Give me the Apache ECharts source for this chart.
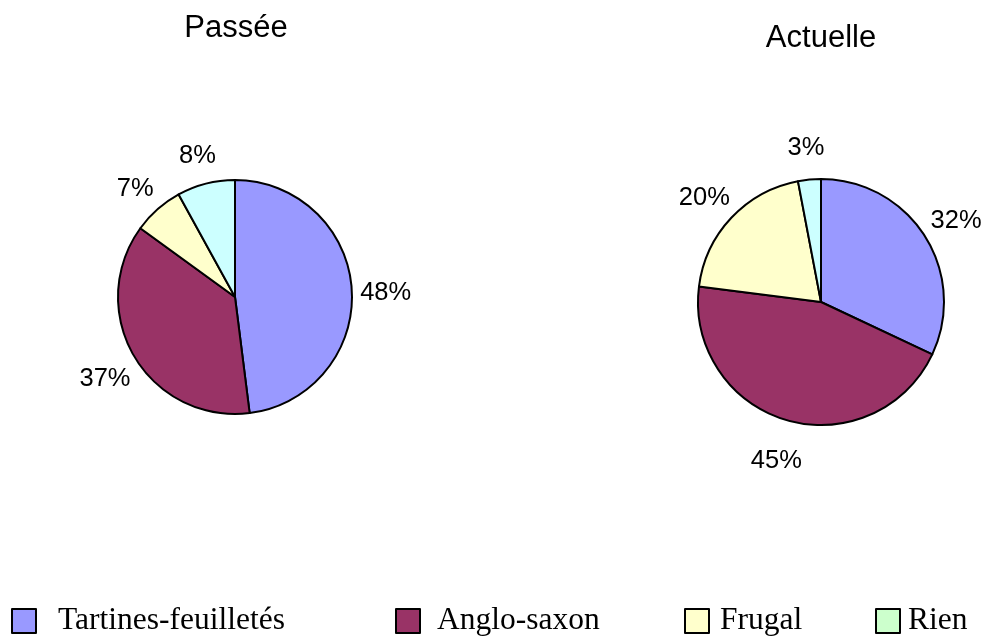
<!DOCTYPE html>
<html>
<head>
<meta charset="utf-8">
<script src="https://cdn.jsdelivr.net/npm/echarts@6/dist/echarts.min.js"></script>
<style>
  html, body { margin: 0; padding: 0; background: #fff; }
  #chart { width: 987px; height: 640px; }
</style>
</head>
<body>
<div id="chart"></div>
<script>
// categories and values (percent)
var categories = ['Tartines-feuilletés', 'Anglo-saxon', 'Frugal', 'Rien'];
var passee = [48, 37, 7, 8];
var actuelle = [32, 45, 20, 3];
var titles = ['Passée', 'Actuelle'];

var sliceColors = ['#9999FF', '#993366', '#FFFFCC', '#CCFFFF'];
var legendColors = ['#9999FF', '#993366', '#FFFFCC', '#CCFFCC'];

function pieData(vals) {
  return vals.map(function (v, i) {
    return { name: categories[i], value: v, itemStyle: { color: sliceColors[i] } };
  });
}

var pieLabel = {
  show: true,
  position: 'outside',
  formatter: '{c}%',
  fontFamily: 'Liberation Sans, Arial, sans-serif',
  fontSize: 25.5,
  color: '#000',
  distanceToLabelLine: 0
};

var legendLeft = [6, 390, 679, 870];
var legendGap = [17, 12, 6, 3];

var chart = echarts.init(document.getElementById('chart'));
chart.setOption({
  animation: false,
  title: [
    { text: titles[0], left: 231, top: 8, textAlign: 'center',
      textStyle: { fontFamily: 'Liberation Sans, Arial, sans-serif', fontSize: 31, fontWeight: 'normal', color: '#000' } },
    { text: titles[1], left: 816, top: 18, textAlign: 'center',
      textStyle: { fontFamily: 'Liberation Sans, Arial, sans-serif', fontSize: 31, fontWeight: 'normal', color: '#000' } }
  ],
  legend: categories.map(function (c, i) {
    return {
      left: legendLeft[i], top: 600,
      icon: 'rect', itemWidth: 24, itemHeight: 24,
      selectedMode: false,
      data: [{ name: c, itemStyle: { color: legendColors[i], borderColor: '#000', borderWidth: 2 } }],
      textStyle: { fontFamily: 'Liberation Serif, Times New Roman, serif', fontSize: 31.5, color: '#000', padding: [5, 0, 0, legendGap[i]] }
    };
  }),
  series: [
    {
      type: 'pie', center: [235, 297], radius: 117, startAngle: 90,
      clockwise: true, avoidLabelOverlap: false,
      itemStyle: { borderColor: '#000', borderWidth: 2 },
      label: pieLabel,
      labelLine: { show: false, length: 34, length2: 0 },
      labelLayout: { align: 'center', dy: 5 },
      emphasis: { disabled: true },
      data: pieData(passee)
    },
    {
      type: 'pie', center: [821, 302], radius: 123, startAngle: 90,
      clockwise: true, avoidLabelOverlap: false,
      itemStyle: { borderColor: '#000', borderWidth: 2 },
      label: pieLabel,
      labelLine: { show: false, length: 37, length2: 0 },
      labelLayout: { align: 'center', dy: 5 },
      emphasis: { disabled: true },
      data: pieData(actuelle)
    }
  ]
});
</script>
</body>
</html>
